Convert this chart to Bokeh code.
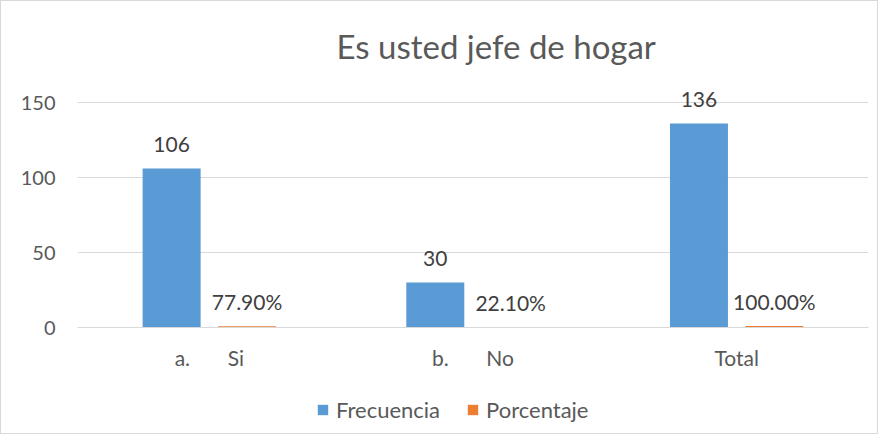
from bokeh.plotting import figure
from bokeh.layouts import column
from bokeh.models import ColumnDataSource, Range1d, FixedTicker, LabelSet, Legend, LegendItem, Title
from bokeh.transform import dodge
from bokeh.core.properties import value
from bokeh.embed import file_html
from bokeh.resources import INLINE

NB = "\u00a0"
categorias = ["a." + NB * 7 + "Si", "b." + NB * 7 + "No", "Total"]
frecuencia = [106, 30, 136]
porcentaje = [0.779, 0.221, 1.0]
etiquetas_frec = ["106", "30", "136"]
etiquetas_porc = ["77.90%", "22.10%", "100.00%"]
y_ticks = [0, 50, 100, 150]
series = ["Frecuencia", "Porcentaje"]

FONT = "Lato"
TXT = "#595959"
LBL = "#404040"
BLUE = "#5B9BD5"
ORANGE = "#ED7D31"

src = ColumnDataSource(dict(cat=categorias, frec=frecuencia, porc=porcentaje,
                            lf=etiquetas_frec, lp=etiquetas_porc))

p = figure(x_range=categorias, y_range=Range1d(0, 162), width=876, height=388,
           output_backend="svg", toolbar_location=None,
           min_border_left=76, min_border_right=9, min_border_top=83, min_border_bottom=62)
p.outline_line_color = None
p.background_fill_color = "white"
p.border_fill_color = "white"

off = 0.143
bw = 0.22
r1 = p.vbar(x=dodge("cat", -off, range=p.x_range), top="frec", width=bw, source=src,
            fill_color=BLUE, line_color=None)
r2 = p.vbar(x=dodge("cat", off, range=p.x_range), top="porc", width=bw, source=src,
            fill_color=ORANGE, line_color=None)

p.add_layout(LabelSet(x=dodge("cat", -off, range=p.x_range), y="frec", text="lf", source=src,
                      text_align="center", text_baseline="middle", y_offset=24,
                      text_font=value(FONT), text_font_size="21px", text_color=LBL))
p.add_layout(LabelSet(x=dodge("cat", off, range=p.x_range), y="porc", text="lp", source=src,
                      text_align="center", text_baseline="middle", y_offset=25,
                      text_font=value(FONT), text_font_size="21px", text_color=LBL))

p.yaxis.ticker = FixedTicker(ticks=y_ticks)
p.yaxis.axis_line_color = None
p.yaxis.major_tick_line_color = None
p.yaxis.minor_tick_line_color = None
p.yaxis.major_tick_out = 0
p.yaxis.major_tick_in = 0
p.yaxis.major_label_standoff = 22
p.yaxis.major_label_text_font = FONT
p.yaxis.major_label_text_font_size = "20px"
p.yaxis.major_label_text_color = TXT

p.xaxis.axis_line_color = "#d9d9d9"
p.xaxis.major_tick_line_color = None
p.xaxis.minor_tick_line_color = None
p.xaxis.major_label_standoff = 11
p.xaxis.major_label_text_font = FONT
p.xaxis.major_label_text_font_size = "21px"
p.xaxis.major_label_text_color = TXT

p.xgrid.grid_line_color = None
p.ygrid.grid_line_color = "#d9d9d9"
p.ygrid.ticker = FixedTicker(ticks=y_ticks)

p.add_layout(Title(text="Es usted jefe de hogar", align="left", offset=259,
                   text_font=FONT, text_font_size="33px", text_font_style="normal",
                   text_color=TXT, standoff=38), "above")

# legend strip: legend renderers sit entirely outside this strip's visible y-range
lf = figure(width=876, height=44, x_range=Range1d(0, 1), y_range=Range1d(1000, 1001),
            output_backend="svg", toolbar_location=None,
            x_axis_type=None, y_axis_type=None,
            min_border_left=0, min_border_right=0, min_border_top=0, min_border_bottom=0)
lf.outline_line_color = None
lf.grid.grid_line_color = None
lf.border_fill_color = "white"
lf.background_fill_color = "white"
lr1 = lf.vbar(x="porc", top="frec", width=0.01, source=src, fill_color=BLUE, line_color=None)
lr2 = lf.vbar(x="porc", top="frec", width=0.01, source=src, fill_color=ORANGE, line_color=None)
legend = Legend(items=[LegendItem(label=series[0], renderers=[lr1]),
                       LegendItem(label=series[1], renderers=[lr2])],
                orientation="horizontal", location=(239, 10),
                label_text_font=FONT, label_text_font_size="22px", label_text_color=TXT,
                glyph_width=13, glyph_height=13, spacing=26, padding=0, margin=0,
                border_line_color=None, background_fill_alpha=0, label_standoff=7)
lf.add_layout(legend, "center")

layout = column(p, lf, spacing=0)
layout.styles = {"border": "1px solid #d9d9d9", "box-sizing": "border-box"}

open("out.html", "w").write(file_html(layout, INLINE))
